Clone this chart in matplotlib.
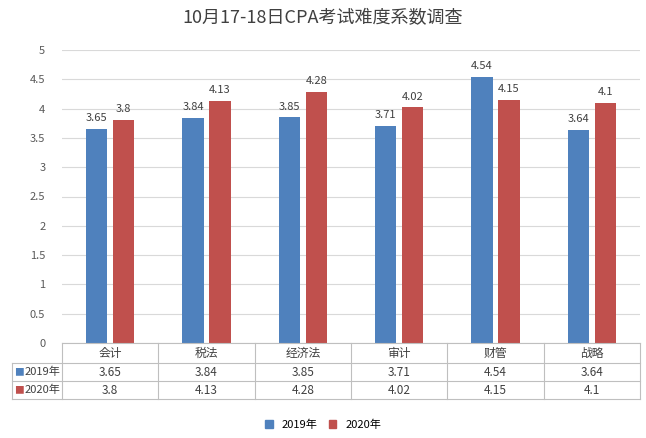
import matplotlib
matplotlib.use("Agg")
import matplotlib.pyplot as plt
from matplotlib import font_manager as fm
import numpy as np

paths = [p for p in fm.findSystemFonts() if 'notosanscjk' in p.lower().replace('-', '').replace('_', '')]
paths.sort(key=lambda p: (('Regular' not in p), ('SC' not in p and 'sc' not in p.lower()), p))
fam = None
for p in paths:
    try:
        fm.fontManager.addfont(p)
        fam = fm.FontProperties(fname=p).get_name()
        break
    except Exception:
        pass
plt.rcParams['font.family'] = 'sans-serif'
plt.rcParams['font.sans-serif'] = ([fam] if fam else []) + ['Noto Sans CJK SC', 'DejaVu Sans']

title = "10月17-18日CPA考试难度系数调查"
categories = ["会计", "税法", "经济法", "审计", "财管", "战略"]
series_names = ["2019年", "2020年"]
v2019 = [3.65, 3.84, 3.85, 3.71, 4.54, 3.64]
v2020 = [3.8, 4.13, 4.28, 4.02, 4.15, 4.1]
colors = ["#4F81BD", "#C0504D"]

W, H = 646, 438
fig = plt.figure(figsize=(6.46, 4.38), dpi=100)
ax = fig.add_axes([62/W, 1-343/H, 578/W, 293/H])
x = np.arange(len(categories))
w = 0.22
off = 0.14
for vals, c, d in [(v2019, colors[0], -off), (v2020, colors[1], off)]:
    bars = ax.bar(x + d, vals, w, color=c)
    for b, v in zip(bars, vals):
        ax.text(b.get_x() + b.get_width()/2, v + 0.1, f"{v:g}", ha='center', va='bottom', fontsize=8, color='#404040')
ax.set_xlim(-0.5, len(categories) - 0.5)
ax.set_ylim(0, 5)
ax.set_yticks(np.arange(0, 5.01, 0.5))
ax.set_yticklabels([f"{t:g}" for t in np.arange(0, 5.01, 0.5)], fontsize=8, color='#595959')
ax.yaxis.grid(True, color='#D9D9D9', lw=0.8)
ax.set_axisbelow(True)
ax.set_xticks([])
for s in ['top', 'right', 'left']:
    ax.spines[s].set_visible(False)
ax.spines['bottom'].set_color('#BFBFBF')
ax.tick_params(axis='y', length=0, pad=12)

tr = ax.get_xaxis_transform()
def yax(py):
    return (343 - py) / 293
rows_y = [343, 363, 381, 399]
lc = '#BFBFBF'
left = (12 - 62) / 578 * 6 - 0.5
for yy in rows_y[1:]:
    ax.plot([left, 5.5], [yax(yy)] * 2, transform=tr, color=lc, lw=0.8, clip_on=False)
for k in range(7):
    ax.plot([k - 0.5] * 2, [yax(343), yax(399)], transform=tr, color=lc, lw=0.8, clip_on=False)
ax.plot([left] * 2, [yax(363), yax(399)], transform=tr, color=lc, lw=0.8, clip_on=False)
for k, cat in enumerate(categories):
    ax.text(k, yax(353), cat, transform=tr, ha='center', va='center', fontsize=8.5, color='#404040')
    for i, vals in enumerate([v2019, v2020]):
        ax.text(k, yax((rows_y[i+1] + rows_y[i+2]) / 2), f"{vals[k]:g}", transform=tr,
                ha='center', va='center', fontsize=8.5, color='#404040')
for i, col in enumerate(colors):
    yc = yax((rows_y[i+1] + rows_y[i+2]) / 2)
    ax.text(left + 0.02, yc, "■", transform=tr, color=col, fontsize=7, ha='left', va='center')
    ax.text(left + 0.13, yc, series_names[i], transform=tr, color='#404040', fontsize=8, ha='left', va='center')

fig.text(0.5, 1-18/H, title, ha='center', va='center', fontsize=13, color='#404040')
from matplotlib.patches import Patch
fig.legend(handles=[Patch(color=colors[0], label=series_names[0]), Patch(color=colors[1], label=series_names[1])],
           loc='center', bbox_to_anchor=(0.5, 1-425/H), ncol=2, frameon=False, fontsize=8,
           handlelength=0.7, handleheight=0.7, columnspacing=1.0)
fig.savefig("out.png", dpi=100)
